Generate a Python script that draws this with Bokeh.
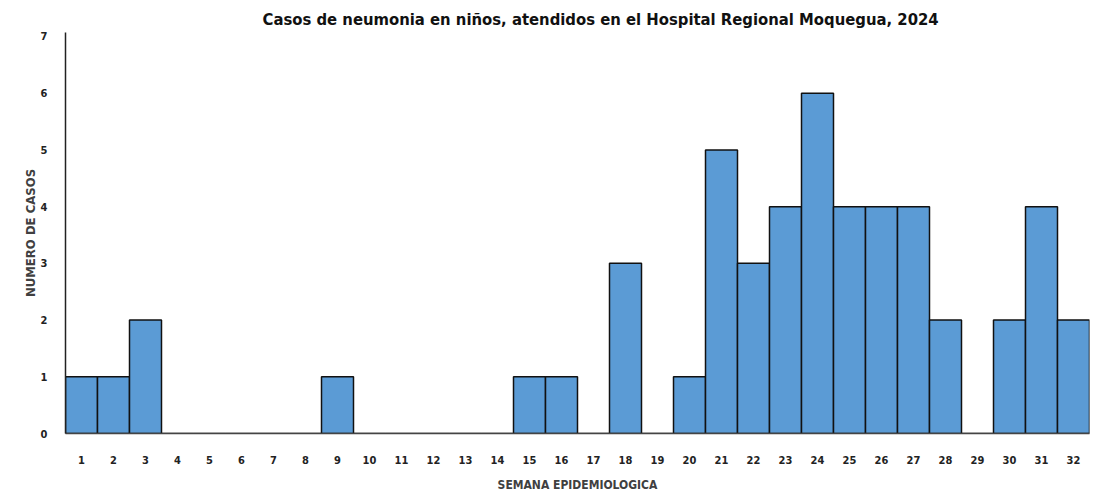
from bokeh.plotting import figure
from bokeh.models import Range1d, ColumnDataSource
from bokeh.embed import file_html
from bokeh.resources import INLINE

weeks = [str(i) for i in range(1, 33)]
cases = [1, 1, 2, 0, 0, 0, 0, 0, 1, 0, 0, 0, 0, 0, 1, 1, 0, 3, 0, 1,
         5, 3, 4, 6, 4, 4, 4, 2, 0, 2, 4, 2]
title_text = "Casos de neumonia en niños, atendidos en el Hospital Regional Moquegua, 2024"
y_title = "NUMERO DE CASOS"
x_title = "SEMANA EPIDEMIOLOGICA"
y_ticks = [0, 1, 2, 3, 4, 5, 6, 7]

FONT = "DejaVu Sans Condensed"

src = ColumnDataSource(dict(week=weeks, cases=cases))

p = figure(width=1090, height=494, x_range=weeks, y_range=Range1d(0, 7.07),
           output_backend="svg", toolbar_location=None,
           min_border_left=65, min_border_right=1, min_border_top=32,
           min_border_bottom=52)
p.outline_line_color = None
p.grid.grid_line_color = None
p.x_range.range_padding = 0

p.vbar(x="week", top="cases", width=1.0, source=src,
       fill_color="#5B9BD5", line_color="#111111", line_width=1.5)

p.title.text = title_text
p.title.align = "left"
p.title.offset = 197
p.title.text_font = FONT
p.title.text_font_style = "bold"
p.title.text_font_size = "16.5px"
p.title.text_color = "#111111"
p.title.standoff = 8

p.yaxis.ticker = y_ticks
p.yaxis.major_tick_line_color = None
p.yaxis.minor_tick_line_color = None
p.yaxis.axis_line_color = "#222222"
p.yaxis.axis_line_width = 1.5
p.yaxis.major_label_standoff = 12
p.yaxis.major_label_text_font = FONT
p.yaxis.major_label_text_font_style = "bold"
p.yaxis.major_label_text_font_size = "11px"
p.yaxis.major_label_text_color = "#222222"
p.yaxis.axis_label = y_title
p.yaxis.axis_label_text_font = FONT
p.yaxis.axis_label_text_font_style = "bold"
p.yaxis.axis_label_text_font_size = "13px"
p.yaxis.axis_label_text_color = "#404040"
p.yaxis.axis_label_standoff = 0

p.xaxis.major_tick_line_color = None
p.xaxis.minor_tick_line_color = None
p.xaxis.axis_line_color = "#444444"
p.xaxis.axis_line_width = 1.5
p.xaxis.major_label_standoff = 16
p.xaxis.major_label_text_font = FONT
p.xaxis.major_label_text_font_style = "bold"
p.xaxis.major_label_text_font_size = "11px"
p.xaxis.major_label_text_color = "#222222"
p.xaxis.axis_label = x_title
p.xaxis.axis_label_text_font = FONT
p.xaxis.axis_label_text_font_style = "bold"
p.xaxis.axis_label_text_font_size = "12px"
p.xaxis.axis_label_text_color = "#404040"
p.xaxis.axis_label_standoff = 11

open("out.html", "w").write(file_html(p, INLINE))
